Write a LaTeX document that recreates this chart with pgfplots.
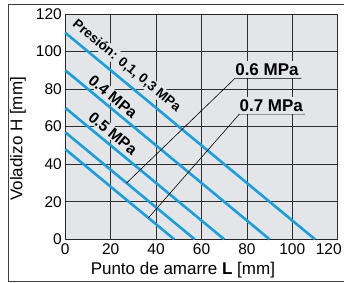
\documentclass[border=0pt]{standalone}
\usepackage{pgfplots}
\pgfplotsset{compat=1.18}
\usepackage{fontspec}
\setmainfont{Liberation Sans}
\definecolor{bg}{HTML}{E4E5E8}
\definecolor{lblue}{HTML}{1A9FDB}
\definecolor{gridc}{HTML}{2E2E2E}
\begin{document}
\begin{tikzpicture}[x=1pt,y=1pt]
\useasboundingbox (0,0) rectangle (344,282);
\draw[color=black!75, line width=0.9pt] (350,278) -- (8,278) -- (8,1) -- (350,1);
\begin{axis}[
  at={(65.3pt,42.7pt)}, anchor=south west,
  scale only axis, width=272.4pt, height=225.3pt,
  xmin=0, xmax=120, ymin=0, ymax=120,
  xtick={0,20,40,60,80,100}, ytick={0,20,40,60,80,100,120},
  extra x ticks={120},
  extra x tick style={xticklabel style={xshift=-9pt}, grid=major},
  major tick length=0pt,
  grid=major,
  grid style={color=gridc, line width=0.8pt},
  axis background/.style={fill=bg},
  axis line style={color=black!85, line width=1pt},
  /pgf/number format/assume math mode=true,
  tick label style={font=\fontsize{15.5}{15.5}\selectfont},
  xticklabel style={yshift=-0.5pt},
  yticklabel style={xshift=0pt},
  clip=false,
]
\addplot[lblue, line width=2.6pt] coordinates {(0,110) (110,0)};
\addplot[lblue, line width=2.6pt] coordinates {(0,90) (90,0)};
\addplot[lblue, line width=2.6pt] coordinates {(0,70) (70,0)};
\addplot[lblue, line width=2.6pt] coordinates {(0,57) (57,0)};
\addplot[lblue, line width=2.6pt] coordinates {(0,48) (48,0)};
% leaders
\draw[black, line width=0.6pt] (axis cs:27,30) -- (axis cs:74.8,85.8) -- (axis cs:104,85.8);
\draw[black, line width=0.6pt] (axis cs:36.6,11.4) -- (axis cs:76.7,66.7) -- (axis cs:105.6,66.7);
\node[anchor=south west, fill=bg, inner xsep=0pt, inner ysep=2.5pt, font=\fontsize{17}{17}\selectfont\bfseries] at (axis cs:74.8,85.8) {0.6 MPa};
\node[anchor=south west, fill=bg, inner xsep=0pt, inner ysep=2.5pt, font=\fontsize{17}{17}\selectfont\bfseries] at (axis cs:76.7,66.7) {0.7 MPa};
% rotated labels
\node[rotate=-39.6, fill=bg, inner sep=1pt, font=\fontsize{13.5}{13.5}\selectfont\bfseries] at (axis cs:27,92.4) {Presión: 0,1, 0,3 MPa};
\node[rotate=-39.6, fill=bg, inner sep=1pt, font=\fontsize{15.5}{15.5}\selectfont\bfseries] at (axis cs:21,76) {0.4 MPa};
\node[rotate=-39.6, fill=bg, inner sep=1pt, font=\fontsize{15.5}{15.5}\selectfont\bfseries] at (axis cs:21,56.4) {0.5 MPa};
% axis labels
\node[font=\fontsize{17}{17}\selectfont] at (axis description cs:0.4316,-0.136) {Punto de amarre \textbf{L} [mm]};
\node[rotate=90, font=\fontsize{17}{17}\selectfont] at (axis description cs:-0.1735,0.4456) {Voladizo H [mm]};
\end{axis}
\end{tikzpicture}
\end{document}
